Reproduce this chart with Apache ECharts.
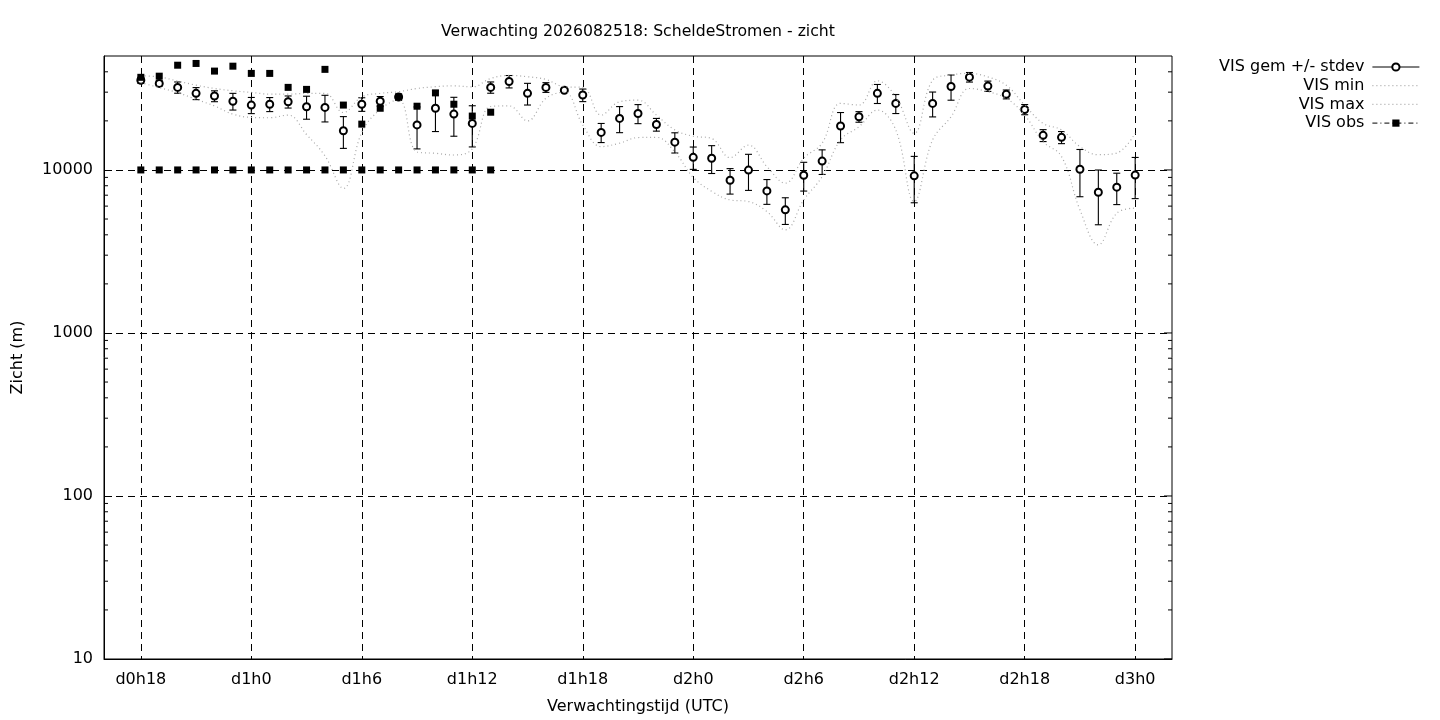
<!DOCTYPE html>
<html>
<head>
<meta charset="utf-8">
<script src="https://cdn.jsdelivr.net/npm/echarts@6/dist/echarts.min.js"></script>
<style>html,body{margin:0;padding:0;background:#fff}#c{width:1440px;height:720px}</style>
</head>
<body>
<div id="c"></div>
<script>
// ---- data ----
const hours = [18,19,20,21,22,23,24,25,26,27,28,29,30,31,32,33,34,35,36,37,38,39,40,41,42,43,44,45,46,47,48,49,50,51,52,53,54,55,56,57,58,59,60,61,62,63,64,65,66,67,68,69,70,71,72];
const gemMean = [35500,33950,32100,29500,28400,26400,25000,25300,26200,24400,24200,17400,25300,26400,28000,18900,23900,22000,19300,32100,34900,29500,32100,30800,28800,17000,20700,22200,19000,14800,11950,11800,8650,9980,7440,5690,9280,11330,18600,21200,29500,25600,9200,25600,32500,37100,32700,29100,23500,16300,15850,10100,7300,7840,9300];
const gemStdev = [1500,1270,2550,2500,2180,3100,2840,2500,2230,3930,4500,3840,2420,1810,1200,5440,6700,5900,5460,2550,3050,4480,2200,350,2550,2280,3770,2970,1700,2100,1870,2290,1540,2490,1290,1060,1860,1950,3900,1580,3940,3420,2910,4450,5720,2500,2380,1830,1690,1370,1350,3250,2690,1710,2630];
const visMin = [34300,32000,29800,27100,24700,22000,21000,20900,21700,16500,12200,7700,17000,23500,27000,12900,12650,12350,13500,24500,24700,20000,27500,30000,18900,13900,14600,15800,15850,12900,9000,7400,6550,6400,5560,4290,6550,9100,15300,18400,23300,17600,6400,15300,21200,31600,30200,27500,21700,14900,12100,5700,3470,5430,5830];
const visMax = [37800,37200,35100,33100,31600,30600,29900,29200,29200,29500,29500,22500,28100,29500,30200,31600,32400,32800,32300,36400,38000,37300,35900,32400,32100,21700,26200,26800,21700,17600,16100,15600,11900,14200,10500,8300,11800,14600,25600,25000,35200,28100,16800,35500,38200,39100,37200,33100,25000,19300,17600,13900,12400,12700,16800];
const obsHours = [18,19,20,21,22,23,24,25,26,27,28,29,30,31,32,33,34,35,36,37];
const obsVis = [37000,37600,43900,45000,40400,43300,39100,39100,32100,31200,41400,25000,19100,23900,28000,24600,29700,25300,21400,22600];
const obsVis2 = [10000,10000,10000,10000,10000,10000,10000,10000,10000,10000,10000,10000,10000,10000,10000,10000,10000,10000,10000,10000];
const xTickHours = [18,24,30,36,42,48,54,60,66,72];
const xTickLabels = ['d0h18','d1h0','d1h6','d1h12','d1h18','d2h0','d2h6','d2h12','d2h18','d3h0'];
const yTickValues = [10,100,1000,10000];
const yTickLabels = ['10','100','1000','10000'];

// ---- chart ----
const FONT = 'DejaVu Sans';
const X_MIN = 16, X_MAX = 74, Y_MIN = 10, Y_MAX = 50000;
const chart = echarts.init(document.getElementById('c'), null, {renderer: 'canvas'});

// minor tick values (axis decoration only)
const minorTicks = [];
yTickValues.forEach(function (d) {
  for (let m = 2; m <= 9; m++) {
    const v = d * m;
    if (v < Y_MAX) minorTicks.push([v, 4]);
  }
});
const rightTicks = minorTicks.concat(yTickValues.map(function (v) { return [v, 8]; }));

const errData = hours.map(function (h, i) { return [h, gemMean[i] - gemStdev[i], gemMean[i] + gemStdev[i]]; });
const gemData = hours.map(function (h, i) { return [h, gemMean[i]]; });
const minData = hours.map(function (h, i) { return [h, visMin[i]]; });
const maxData = hours.map(function (h, i) { return [h, visMax[i]]; });
const obsData = [];
obsHours.forEach(function (h, i) { obsData.push([h, obsVis[i]]); obsData.push([h, obsVis2[i]]); });

const gray = '#a8a8a8';
const dotted = [1, 3];

const option = {
  animation: false,
  backgroundColor: '#fff',
  textStyle: {fontFamily: FONT, color: '#000'},
  title: {
    text: 'Verwachting 2026082518: ScheldeStromen - zicht',
    left: 633, top: 19, textAlign: 'center',
    textStyle: {fontFamily: FONT, fontSize: 15.7, fontWeight: 'normal', color: '#000'}
  },
  grid: {left: 104, top: 56, right: 268, bottom: 60, show: true, borderColor: '#000', borderWidth: 1, backgroundColor: 'transparent'},
  legend: {
    orient: 'vertical', right: 20, top: 59, align: 'right', padding: 0, itemGap: 2.7,
    itemWidth: 47, itemHeight: 9, selectedMode: false,
    textStyle: {fontFamily: FONT, fontSize: 16, color: '#000', padding: [0, 3, 0, 0]},
    data: [
      {name: 'VIS gem +/- stdev', lineStyle: {opacity: 1, color: '#000', width: 1, type: 'solid'}},
      {name: 'VIS min', itemStyle: {opacity: 0}, lineStyle: {opacity: 1, color: gray, width: 1.2, type: dotted}},
      {name: 'VIS max', itemStyle: {opacity: 0}, lineStyle: {opacity: 1, color: gray, width: 1.2, type: dotted}},
      {name: 'VIS obs', lineStyle: {opacity: 1, color: '#000', width: 1, type: [5, 3, 1, 3]}}
    ]
  },
  xAxis: {
    type: 'value', min: X_MIN, max: X_MAX,
    name: 'Verwachtingstijd (UTC)', nameLocation: 'middle', nameGap: 40,
    nameTextStyle: {fontFamily: FONT, fontSize: 16, color: '#000'},
    axisLine: {show: true, onZero: false, lineStyle: {color: '#000', width: 1}},
    axisTick: {show: false, customValues: xTickHours},
    axisLabel: {
      customValues: xTickHours, margin: 13, fontFamily: FONT, fontSize: 16, color: '#000',
      formatter: function (v) { const k = xTickHours.indexOf(Math.round(v)); return k >= 0 ? xTickLabels[k] : ''; }
    },
    splitLine: {show: true, lineStyle: {color: '#000', width: 1, type: [7, 5]}}
  },
  yAxis: {
    type: 'log', logBase: 10, min: Y_MIN, max: Y_MAX,
    name: 'Zicht (m)', nameLocation: 'middle', nameGap: 78, nameRotate: 90,
    nameTextStyle: {fontFamily: FONT, fontSize: 16, color: '#000'},
    axisLine: {show: true, lineStyle: {color: '#000', width: 1}},
    axisTick: {show: true, inside: true, length: 8, lineStyle: {color: '#000'}, customValues: yTickValues},
    axisLabel: {
      customValues: yTickValues, margin: 11, fontFamily: FONT, fontSize: 16, color: '#000',
      formatter: function (v) { const k = yTickValues.indexOf(Math.round(v)); return k >= 0 ? yTickLabels[k] : ''; }
    },
    splitLine: {show: true, lineStyle: {color: '#000', width: 1, type: [7, 5]}},
    minorTick: {show: false}
  },
  series: [
    {
      name: 'errbars', type: 'custom', data: errData, z: 3, silent: true,
      encode: {x: 0, y: [1, 2]},
      renderItem: function (params, api) {
        const lo = api.coord([api.value(0), api.value(1)]);
        const hi = api.coord([api.value(0), api.value(2)]);
        const w = 3.5;
        const st = {stroke: '#000', lineWidth: 1.1, fill: null};
        return {type: 'group', children: [
          {type: 'line', shape: {x1: lo[0], y1: lo[1], x2: hi[0], y2: hi[1]}, style: st},
          {type: 'line', shape: {x1: lo[0] - w, y1: lo[1], x2: lo[0] + w, y2: lo[1]}, style: st},
          {type: 'line', shape: {x1: hi[0] - w, y1: hi[1], x2: hi[0] + w, y2: hi[1]}, style: st}
        ]};
      }
    },
    {
      name: 'VIS gem +/- stdev', type: 'line', data: gemData, z: 4,
      symbol: 'emptyCircle', symbolSize: 7, showSymbol: true,
      lineStyle: {opacity: 0},
      itemStyle: {color: '#000', borderColor: '#000', borderWidth: 1}
    },
    {
      name: 'VIS min', type: 'line', data: minData, smooth: 0.4, symbol: 'none', z: 5,
      itemStyle: {color: gray},
      lineStyle: {color: gray, width: 1.2, type: dotted}
    },
    {
      name: 'VIS max', type: 'line', data: maxData, smooth: 0.4, symbol: 'none', z: 5,
      itemStyle: {color: gray},
      lineStyle: {color: gray, width: 1.2, type: dotted}
    },
    {
      name: 'VIS obs', type: 'line', data: obsData, z: 6,
      symbol: 'rect', symbolSize: 7, showSymbol: true,
      lineStyle: {opacity: 0},
      itemStyle: {color: '#000'}
    },
    {
      name: 'ticks', type: 'custom', data: rightTicks, silent: true, z: 2,
      encode: {y: 0},
      renderItem: function (params, api) {
        const v = api.value(0), len = api.value(1);
        const l = api.coord([X_MIN, v]);
        const r = api.coord([X_MAX, v]);
        const st = {stroke: '#000', lineWidth: 1};
        const ch = [{type: 'line', shape: {x1: r[0] - len, y1: r[1], x2: r[0], y2: r[1]}, style: st}];
        if (len < 8) ch.push({type: 'line', shape: {x1: l[0], y1: l[1], x2: l[0] + len, y2: l[1]}, style: st});
        return {type: 'group', children: ch};
      }
    }
  ]
};
chart.setOption(option);
</script>
</body>
</html>
